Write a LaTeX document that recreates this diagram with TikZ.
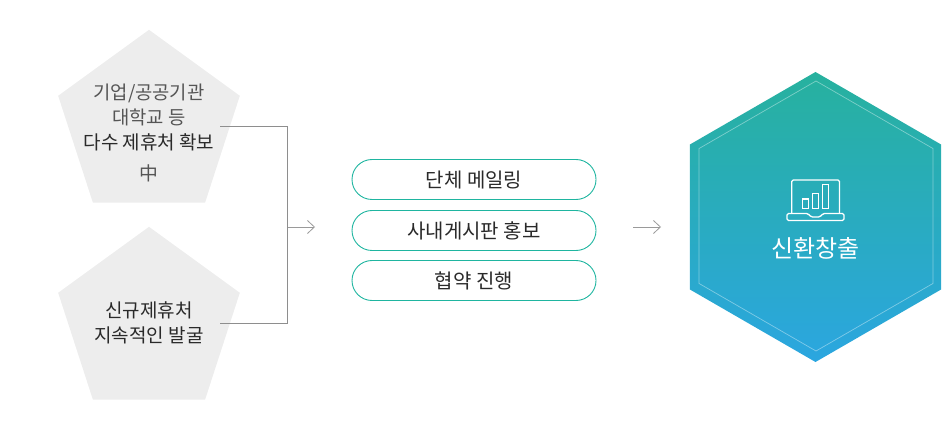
\documentclass[tikz,border=0pt]{standalone}
\usepackage{fontspec}
\setmainfont{Noto Sans CJK KR}
\usetikzlibrary{shapes.geometric,arrows.meta}
\definecolor{penta}{HTML}{EDEDED}
\definecolor{linegray}{HTML}{8E8E8E}
\definecolor{tipgray}{HTML}{9A9A9A}
\definecolor{pillteal}{HTML}{1FB5A0}
\definecolor{hextop}{HTML}{27B19E}
\definecolor{hexbottom}{HTML}{2BA6E0}
\definecolor{softtext}{HTML}{555555}
\definecolor{darktext}{HTML}{2A2A2A}
\tikzset{
	pentabox/.style={regular polygon,regular polygon sides=5,minimum size=191pt,inner sep=0pt,outer sep=0pt,fill=penta},
	pillbox/.style={draw=pillteal,line width=0.9pt,rounded corners=20pt,minimum width=244pt,minimum height=40pt,inner sep=0pt,text height=16pt,text depth=0pt,font=\fontsize{20}{20}\selectfont,text=darktext},
	hexbox/.style={regular polygon,regular polygon sides=6,shape border rotate=30,inner sep=0pt,outer sep=0pt},
	softlabel/.style={font=\fontsize{18.8}{25}\selectfont,text=softtext,align=center},
	darklabel/.style={font=\fontsize{19}{25}\selectfont,text=darktext,align=center},
	iconline/.style={draw=white,line width=1.3pt,rounded corners=1.5pt},
	flow/.style={draw=linegray,line width=0.8pt},
	flowtip/.style={->,>={Straight Barb[length=7pt,width=13pt]},draw=tipgray,line width=0.8pt}
}
\begin{document}
\begin{tikzpicture}[x=1pt,y=1pt]
		\useasboundingbox (0,0) rectangle (950,-430);
		% left side
		\node (sourceA) [pentabox] at (149,-125.3) {};
		\node (sourceB) [pentabox,node distance=197pt,below of=sourceA] {};
		\node (publicOrg) [softlabel] at (149,-105) {기업/공공기관\\대학교 등};
		\node (secure) [darklabel] at (149,-142.7) {다수 제휴처 확보};
		\node (middle) [softlabel] at (149,-173.5) {中};
		\node (newPartner) [darklabel] at (149,-323) {신규제휴처\\지속적인 발굴};
		\coordinate (startA) at (220,-126.5);
		\coordinate (startB) at (220,-323);
		\coordinate (joinA) at (287.5,-126.5);
		\coordinate (joinB) at (287.5,-323);
		\coordinate (joinMid) at (287.5,-227);
		\coordinate (tipA) at (315,-227);
		\draw[flow] (startA) -- (joinA) -- (joinB) -- (startB);
		\draw[flowtip] (joinMid) -- (tipA);
		% middle
		\node (mailing) [pillbox] at (474,-179.5) {단체 메일링};
		\node (board) [pillbox,node distance=51pt,below of=mailing] {사내게시판 홍보};
		\node (contract) [pillbox,node distance=50pt,below of=board] {협약 진행};
		\coordinate (fromPills) at (633,-227);
		\coordinate (tipB) at (661,-227);
		\draw[flowtip] (fromPills) -- (tipB);
		% right side
		\node (result) [hexbox,minimum size=290pt,top color=hextop,bottom color=hexbottom] at (815.5,-217) {};
		\node (resultIn) [hexbox,minimum size=270pt,draw=white,draw opacity=0.4,line width=0.7pt] at (816,-216) {};
		\node (resultText) [font=\fontsize{24}{24}\selectfont,text=white] at (815.5,-248) {신환창출};
		% laptop icon
		\draw[iconline] (791.7,-213) -- (791.7,-180) -- (839.5,-180) -- (839.5,-213);
		\draw[iconline] (787,-213.5) -- (808,-213.5) -- (811,-217) -- (820,-217) -- (823,-213.5) -- (844,-213.5) -- (844,-220.5) -- (787,-220.5) -- cycle;
		\draw[white,line width=1.2pt] (802.7,-199) rectangle (808.7,-208.5);
		\draw[white,line width=1.2pt] (812.3,-193.5) rectangle (818.3,-208.5);
		\draw[white,line width=1.2pt] (822.3,-184.5) rectangle (828.3,-208.5);
		\end{tikzpicture}
\end{document}
